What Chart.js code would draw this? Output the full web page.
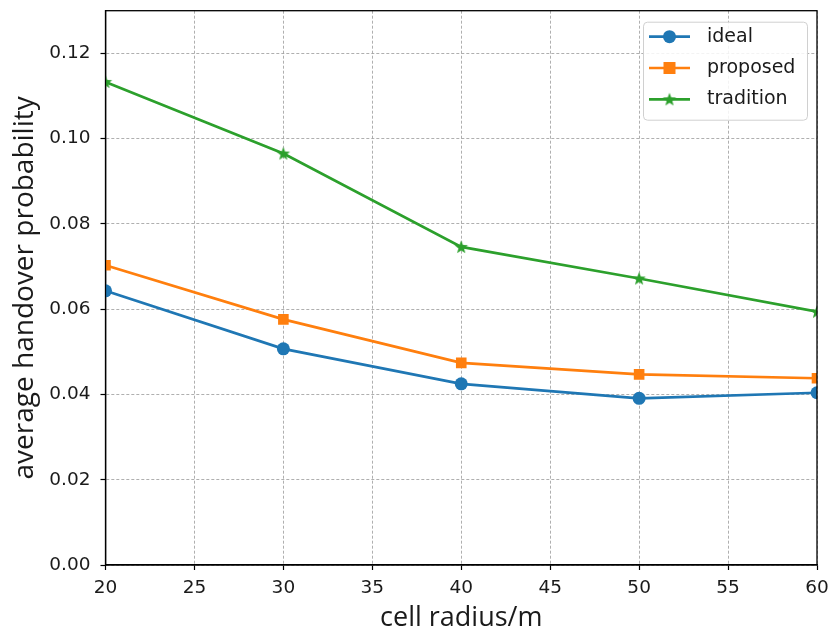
<!DOCTYPE html>
<html>
<head>
<meta charset="utf-8">
<script src="https://cdn.jsdelivr.net/npm/chart.js@4"></script>
<style>
  html, body { margin: 0; padding: 0; background: #fff; }
  #wrap { width: 830px; height: 635px; }
</style>
</head>
<body>
<div id="wrap"><canvas id="c" width="830" height="635"></canvas></div>
<script>
// cell radius (m) at which each scheme was evaluated
const radii = [20, 30, 40, 50, 60];
// average handover probability per scheme
const ideal = [0.0643, 0.0507, 0.0425, 0.0391, 0.0404];
const proposed = [0.0703, 0.0576, 0.0474, 0.0447, 0.0438];
const tradition = [0.1133, 0.0965, 0.0746, 0.0672, 0.0594];
// axis ticks
const xTicks = [20, 25, 30, 35, 40, 45, 50, 55, 60];
const yTicks = [0.00, 0.02, 0.04, 0.06, 0.08, 0.10, 0.12];

const seriesNames = ['ideal', 'proposed', 'tradition'];
const seriesColors = ['#1f77b4', '#ff7f0e', '#2ca02c'];

// filled five-pointed star marker
function makeStar(color, r) {
  const size = Math.ceil(r * 2 + 2);
  const cv = document.createElement('canvas');
  cv.width = size; cv.height = size;
  const g = cv.getContext('2d');
  const cx = size / 2, cy = size / 2 + 0.5, inner = r * 0.42;
  g.beginPath();
  for (let i = 0; i < 10; i++) {
    const rad = i % 2 === 0 ? r : inner;
    const a = -Math.PI / 2 + i * Math.PI / 5;
    const px = cx + rad * Math.cos(a), py = cy + rad * Math.sin(a);
    if (i === 0) g.moveTo(px, py); else g.lineTo(px, py);
  }
  g.closePath();
  g.fillStyle = color;
  g.fill();
  return cv;
}
const starMarker = makeStar(seriesColors[2], 7);

function pts(values) {
  return radii.map((x, i) => ({ x: x, y: values[i] }));
}

const tickFont = { family: 'DejaVu Sans', size: 18.5 };
const xTitleFont = { family: 'Open Sans', size: 27 };
const yTitleFont = { family: 'Open Sans', size: 28 };

// box around the plot area
const frame = {
  id: 'frame',
  afterDatasetsDraw(chart) {
    const a = chart.chartArea, ctx = chart.ctx;
    ctx.save();
    ctx.strokeStyle = '#000';
    ctx.lineWidth = 1.3;
    ctx.strokeRect(a.left, a.top, a.right - a.left, a.bottom - a.top);
    ctx.restore();
  }
};

// legend box in the upper right corner, line + marker + label per series
const legendBox = {
  id: 'legendBox',
  afterDraw(chart) {
    const ctx = chart.ctx, a = chart.chartArea;
    const boxW = 164, boxH = 98;
    const bx = a.right - 10 - boxW, by = a.top + 11;
    ctx.save();
    ctx.fillStyle = 'rgba(255,255,255,0.85)';
    ctx.strokeStyle = '#d0d0d0';
    ctx.lineWidth = 1;
    ctx.beginPath();
    ctx.roundRect(bx + 0.5, by + 0.5, boxW, boxH, 4);
    ctx.fill();
    ctx.stroke();
    chart.data.datasets.forEach((ds, i) => {
      const y = by + 15 + i * 31.3;
      const x0 = bx + 6, x1 = bx + 47, xm = (x0 + x1) / 2;
      ctx.strokeStyle = ds.borderColor;
      ctx.lineWidth = ds.borderWidth;
      ctx.beginPath();
      ctx.moveTo(x0, y); ctx.lineTo(x1, y);
      ctx.stroke();
      ctx.fillStyle = ds.backgroundColor;
      if (ds.pointStyle === 'circle') {
        ctx.beginPath();
        ctx.arc(xm, y, ds.pointRadius, 0, Math.PI * 2);
        ctx.fill();
      } else if (ds.pointStyle === 'rect') {
        const s = ds.pointRadius * 1.6;
        ctx.fillRect(xm - s / 2, y - s / 2, s, s);
      } else {
        ctx.drawImage(ds.pointStyle, xm - ds.pointStyle.width / 2, y - ds.pointStyle.height / 2);
      }
      ctx.fillStyle = '#1a1a1a';
      ctx.font = '19px "DejaVu Sans"';
      ctx.textBaseline = 'middle';
      ctx.textAlign = 'left';
      ctx.fillText(ds.label, bx + 64, y);
    });
    ctx.restore();
  }
};

new Chart(document.getElementById('c'), {
  type: 'line',
  data: {
    datasets: [
      {
        label: seriesNames[0], data: pts(ideal),
        borderColor: seriesColors[0], backgroundColor: seriesColors[0],
        borderWidth: 2.7, pointStyle: 'circle', pointRadius: 6.5,
        pointBorderWidth: 0, clip: 0
      },
      {
        label: seriesNames[1], data: pts(proposed),
        borderColor: seriesColors[1], backgroundColor: seriesColors[1],
        borderWidth: 2.7, pointStyle: 'rect', pointRadius: 7.5,
        pointBorderWidth: 0, clip: 0
      },
      {
        label: seriesNames[2], data: pts(tradition),
        borderColor: seriesColors[2], backgroundColor: seriesColors[2],
        borderWidth: 2.7, pointStyle: starMarker, pointRadius: 7,
        pointBorderWidth: 0, clip: 0
      }
    ]
  },
  options: {
    responsive: false,
    animation: false,
    events: [],
    layout: { padding: { top: 10.7, right: 13, left: 0, bottom: 0 } },
    plugins: { legend: { display: false }, tooltip: { enabled: false } },
    elements: { line: { tension: 0 } },
    scales: {
      x: {
        type: 'linear', min: 20, max: 60,
        afterBuildTicks(scale) { scale.ticks = xTicks.map(v => ({ value: v })); },
        afterFit(scale) {
          scale.height = 70;
          scale.paddingLeft = 0; scale.paddingRight = 0;
        },
        grid: {
          color: '#9a9a9a', lineWidth: 0.8,
          drawTicks: true, tickLength: 5, tickColor: '#000', tickWidth: 1.2, tickBorderDash: []
        },
        border: { display: true, color: '#000', width: 1.3, dash: [3, 2] },
        ticks: { font: tickFont, color: '#1a1a1a', padding: 7, maxRotation: 0, autoSkip: false,
                 callback: v => String(v) },
        title: { display: true, text: 'cell radius/m', font: xTitleFont, color: '#1a1a1a',
                 padding: { top: 0, bottom: 0 } }
      },
      y: {
        type: 'linear', min: 0, max: 0.13,
        afterBuildTicks(scale) { scale.ticks = yTicks.map(v => ({ value: v })); },
        afterFit(scale) {
          scale.width = 105.5;
          scale.paddingTop = 0; scale.paddingBottom = 0;
        },
        grid: {
          color: '#9a9a9a', lineWidth: 0.8,
          drawTicks: true, tickLength: 5, tickColor: '#000', tickWidth: 1.2, tickBorderDash: []
        },
        border: { display: true, color: '#000', width: 1.3, dash: [3, 2] },
        ticks: { font: tickFont, color: '#1a1a1a', padding: 10, autoSkip: false,
                 callback: v => v.toFixed(2) },
        title: { display: true, text: 'average handover probability', font: yTitleFont, color: '#1a1a1a',
                 padding: { top: 8, bottom: 0 } }
      }
    }
  },
  plugins: [frame, legendBox]
});
</script>
</body>
</html>
